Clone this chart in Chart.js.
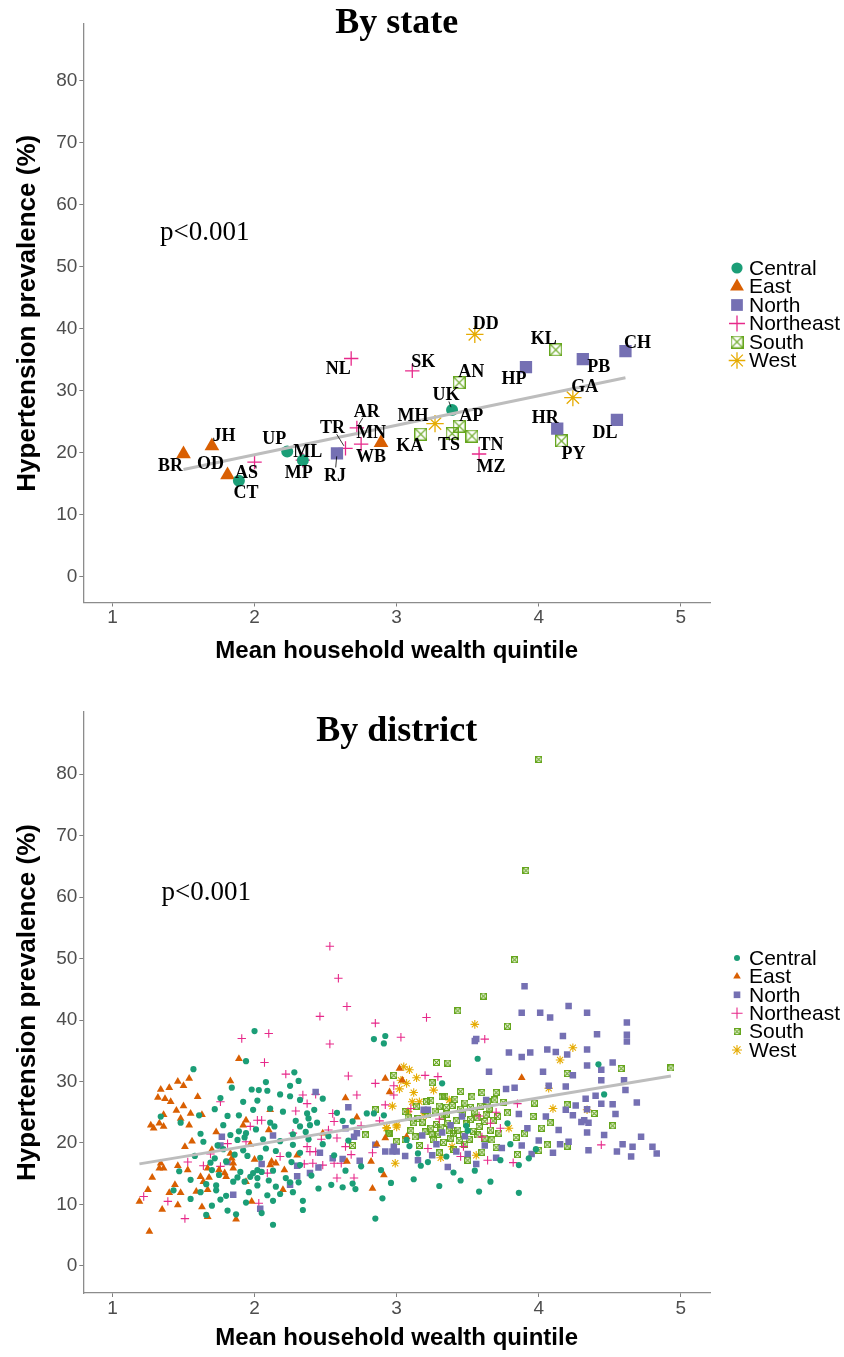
<!DOCTYPE html>
<html>
<head>
<meta charset="utf-8">
<script src="https://cdn.jsdelivr.net/npm/chart.js@4.4.1/dist/chart.umd.min.js"></script>
<style>
  html, body { margin: 0; padding: 0; background: #fff; }
  canvas { display: block; }
</style>
</head>
<body>
<canvas id="stateChart" width="844" height="689"></canvas>
<canvas id="districtChart" width="844" height="668"></canvas>
<script>
var regionNames = ['Central', 'East', 'North', 'Northeast', 'South', 'West'];
var regionColors = ['#1b9e77', '#d95f02', '#7570b3', '#e7298a', '#66a61e', '#e6ab02'];
var regionShapes = ['circle', 'triangle', 'rect', 'cross', 'boxcross', 'star'];

var xTicks = [1, 2, 3, 4, 5];
var yTicks = [0, 10, 20, 30, 40, 50, 60, 70, 80];

// by state
var stateCodes  = ['CT', 'UP', 'MP', 'UK', 'BR', 'JH', 'OD', 'WB', 'RJ', 'HP', 'PB', 'CH', 'HR', 'DL',
                   'AS', 'ML', 'TR', 'AR', 'MN', 'NL', 'SK', 'MZ', 'AN', 'KA', 'AP', 'TS', 'TN', 'KL', 'PY',
                   'DD', 'MH', 'GA'];
var stateRegion = ['Central', 'Central', 'Central', 'Central', 'East', 'East', 'East', 'East',
                   'North', 'North', 'North', 'North', 'North', 'North',
                   'Northeast', 'Northeast', 'Northeast', 'Northeast', 'Northeast', 'Northeast', 'Northeast', 'Northeast',
                   'South', 'South', 'South', 'South', 'South', 'South', 'South', 'West', 'West', 'West'];
var stateWealth = [1.89, 2.23, 2.34, 3.39, 1.50, 1.70, 1.81, 2.89, 2.58, 3.91, 4.31, 4.61, 4.13, 4.55,
                   2.00, 2.34, 2.64, 2.72, 2.75, 2.68, 3.11, 3.58, 3.44, 3.17, 3.44, 3.39, 3.53, 4.12, 4.16,
                   3.55, 3.27, 4.24];
var statePrev   = [15.5, 20.2, 18.8, 26.9, 19.8, 21.1, 16.4, 21.6, 19.9, 33.8, 35.1, 36.4, 23.9, 25.3,
                   18.5, 18.8, 20.7, 24.0, 21.4, 35.2, 33.2, 19.8, 31.3, 23.0, 24.3, 23.1, 22.7, 36.6, 21.9,
                   39.1, 24.7, 28.9];
var stateFitX = [1.50, 4.61];
var stateFitY = [17.3, 32.1];

// label nudges in px (label centre minus point centre)
var labelNudge = {
  BR: [-13, 11], JH: [12, -11], OD: [-17, -12], AS: [-8, 10], CT: [7, 12], UP: [-13, -13], ML: [5, -9],
  MP: [-4, 12], RJ: [-2, 22], TR: [-13, -21], AR: [10, -17], MN: [10, -12], WB: [-10, 14], NL: [-13, 10],
  SK: [11, -10], DD: [11, -11], AN: [12, -11], UK: [-6, -16], MH: [-22, -8], KA: [-11, 11], AP: [12, -11],
  TS: [-3, 11], TN: [19, 8], MZ: [12, 12], KL: [-12, -11], HP: [-12, 11], PB: [16, 7], CH: [12, -9],
  GA: [12, -11], HR: [-12, -11], PY: [12, 12], DL: [-12, 12]
};
var leaderCodes = ['RJ', 'TR', 'AR', 'UK'];

// by district: [mean wealth quintile, prevalence %]
var districtCentral = [
  [2.00,38.2],[2.84,36.9],[2.92,37.4],[2.91,36.2],[1.94,33.3],[1.57,32.0],[2.08,29.9],[2.31,30.1],[2.25,29.3],
  [1.98,28.7],[2.03,28.6],[2.09,28.5],[1.84,29.0],[2.18,27.9],[2.25,27.6],[2.32,27.0],[1.92,26.7],[2.02,26.9],
  [1.76,27.3],[1.72,25.5],[1.99,25.4],[2.11,25.6],[2.42,25.4],[2.37,24.8],[2.38,24.0],[2.29,23.6],[2.39,22.9],
  [2.32,22.7],[1.81,24.4],[1.89,24.5],[1.48,23.3],[1.61,24.5],[2.11,23.3],[2.14,22.7],[2.01,22.2],[1.89,21.9],
  [1.94,21.6],[1.93,20.9],[1.88,20.5],[2.27,21.4],[2.38,20.6],[2.52,21.1],[2.27,19.7],[2.58,24.9],[2.62,23.6],
  [2.69,23.5],[2.79,24.8],[2.84,24.8],[2.91,24.5],[1.92,18.8],[1.74,19.6],[2.32,18.4],[2.15,18.7],[2.08,19.1],
  [2.32,16.4],[1.80,17.0],[1.69,16.8],[1.70,15.6],[1.47,15.4],[1.55,14.0],[1.90,15.3],[1.99,15.1],[2.02,15.6],
  [2.13,15.5],[2.05,15.3],[1.97,14.5],[2.02,14.3],[1.93,13.7],[1.85,13.7],[1.75,14.8],[1.88,14.4],[2.02,13.1],
  [2.15,12.9],[2.22,14.3],[2.25,13.6],[2.31,13.6],[2.45,12.6],[2.64,15.5],[2.69,13.4],[2.71,12.5],[2.89,15.6],
  [1.43,12.3],[1.55,10.9],[1.73,13.1],[1.73,12.3],[1.62,12.0],[1.76,10.8],[1.94,10.3],[2.13,10.6],[2.34,10.6],
  [2.34,9.1],[1.81,9.0],[1.87,8.4],[2.05,8.6],[1.66,8.3],[1.70,9.8],[2.13,6.7],[2.90,11.0],[2.85,7.7],
  [2.27,12.0],[1.34,24.3],[3.57,33.7],[3.32,29.7],[4.42,32.8],[4.46,27.9],[3.78,23.2],[3.49,22.8],[3.50,22.0],
  [3.07,20.5],[3.80,19.8],[3.17,16.3],[3.66,13.7],[3.73,17.2],[3.86,16.4],[3.86,11.9],[3.09,19.5],[3.22,16.9],
  [3.40,15.2],[3.30,13.0],[3.55,15.5],[3.93,17.5],[3.15,18.3],[3.98,19.0],[2.75,16.2],[2.62,12.8],
  [1.62,21.5],[1.78,22.9],[1.86,18.1],[2.06,20.6],[2.20,25.1],[2.44,23.3],[2.48,19.8],[1.58,17.9],[1.66,13.3],
  [2.18,11.7],[2.40,14.7],[2.56,18.0],[2.48,27.2],[2.28,31.5],[1.96,12.0],[2.10,13.9],[1.78,19.0],[2.26,16.9],
  [2.54,13.2],[2.66,20.4],[2.96,13.5],[3.12,14.1],[3.35,17.8],[3.58,12.1],[3.45,13.9],
  [1.64,20.2],[1.83,21.3],[1.95,17.9],[2.04,17.6],[2.18,20.3],[2.24,18.1],[2.36,21.8],[1.72,17.5],[2.09,11.5],
  [1.80,11.4]
];
var districtEast = [
  [1.46,30.0],[1.54,30.5],[1.50,29.3],[1.40,29.0],[1.34,28.7],[1.32,27.4],[1.37,27.2],[1.41,26.7],[1.60,27.5],
  [1.50,26.0],[1.45,25.3],[1.55,24.8],[1.63,24.6],[1.36,24.6],[1.48,24.0],[1.27,22.9],[1.33,23.2],[1.29,22.4],
  [1.36,22.7],[1.54,22.9],[1.73,21.8],[1.89,33.7],[1.83,30.1],[2.11,25.4],[1.94,23.7],[2.10,22.1],[1.97,19.8],
  [1.51,19.4],[1.83,18.3],[1.34,16.7],[1.33,15.9],[1.36,15.9],[1.46,16.3],[1.53,15.6],[1.67,15.9],[1.62,14.5],
  [1.64,13.7],[1.68,14.4],[1.75,15.6],[1.79,15.1],[1.84,17.5],[1.85,16.7],[1.85,15.9],[2.12,17.0],[2.11,16.4],
  [2.15,16.7],[2.21,15.6],[1.80,14.5],[1.94,13.7],[1.44,13.2],[1.48,11.9],[1.40,11.9],[1.59,12.1],[1.67,12.4],
  [1.63,9.6],[1.46,9.9],[1.35,9.2],[1.25,12.4],[1.19,10.5],[2.20,12.4],[1.98,10.5],[1.87,7.6],[1.67,8.0],
  [1.26,5.6],[2.64,27.3],[2.72,24.2],[2.86,19.8],[2.92,20.8],[2.82,17.0],[2.91,14.8],[2.83,12.6],[3.02,32.1],
  [2.65,17.0],[3.88,30.6],[2.92,30.5],[3.04,30.2],[3.07,21.0],
  [1.56,20.3],[1.70,18.9],[1.92,22.9],[2.00,17.3],[1.28,14.4],[2.30,18.0],[2.48,21.6],[2.95,28.3]
];
var districtNorth = [
  [2.43,28.3],[2.66,25.8],[1.77,21.0],[1.76,19.6],[2.13,21.2],[2.46,18.4],[2.55,17.5],[2.74,17.1],[2.30,16.3],
  [2.05,16.6],[2.45,16.0],[2.39,15.1],[2.30,14.6],[2.25,13.2],[1.85,11.6],[2.04,9.3],[2.64,22.4],[2.70,21.0],
  [2.72,21.6],[2.92,18.6],[2.97,18.6],[3.00,18.6],[1.81,16.9],[3.90,45.5],[3.88,41.2],[4.01,41.2],[4.08,40.4],
  [4.21,42.3],[4.34,41.2],[4.62,39.6],[4.62,37.6],[4.62,36.5],[4.41,37.7],[4.17,37.4],[3.55,36.6],[3.56,36.9],
  [3.79,34.7],[3.88,34.0],[3.94,34.7],[4.06,35.2],[4.12,34.8],[4.20,34.4],[4.34,35.2],[4.34,32.6],[4.52,33.1],
  [3.65,31.6],[4.03,31.6],[4.24,31.0],[4.44,31.9],[4.44,30.2],[4.60,30.2],[4.61,28.6],[4.69,26.6],[3.77,28.8],
  [3.83,29.0],[4.07,29.3],[4.19,29.2],[4.33,27.2],[4.40,27.7],[4.44,26.4],[4.52,26.3],[4.26,26.1],[4.54,24.7],
  [4.24,24.5],[4.19,25.4],[4.34,25.5],[4.32,23.7],[4.30,23.4],[4.35,23.3],[4.34,21.7],[4.14,22.1],[4.05,24.3],
  [3.86,24.7],[3.92,22.4],[4.00,20.4],[4.15,19.8],[4.21,20.2],[4.59,19.8],[4.66,19.4],[3.63,27.0],[3.46,24.3],
  [3.19,25.4],[3.22,25.4],[3.18,21.2],[2.98,19.4],[3.36,16.1],[3.25,18.0],[3.50,18.2],[3.70,17.6],[3.95,18.2],
  [4.10,18.4],[4.35,18.8],[4.55,18.6],[4.80,19.4],[4.83,18.3],[4.65,17.8],
  [3.15,17.2],[3.28,19.8],[3.32,21.7],[3.42,18.6],[3.48,21.1],[3.56,16.6],[3.74,19.2],[3.62,19.6],[3.06,17.9],
  [3.88,19.6],[4.46,21.3],[4.72,21.0],[2.85,19.7],[2.62,17.4],[3.38,22.9]
];
var districtNortheast = [
  [2.53,52.0],[2.59,46.8],[2.65,42.2],[2.46,40.6],[2.85,39.5],[2.10,37.8],[1.91,37.0],[2.53,36.1],[2.07,33.1],
  [2.85,29.7],[2.98,29.3],[2.98,27.8],[2.34,27.8],[2.37,26.4],[2.29,25.2],[2.43,27.9],[1.76,26.7],[2.02,23.7],
  [2.05,23.7],[2.55,24.8],[2.56,23.5],[1.97,22.7],[1.94,20.2],[1.69,18.2],[1.53,16.9],[1.64,16.3],[1.76,16.2],
  [1.81,19.9],[2.18,17.8],[2.37,19.4],[2.39,18.6],[2.43,18.6],[2.64,19.4],[2.58,20.8],[2.72,27.8],[2.56,16.7],
  [2.61,16.7],[2.48,16.4],[2.41,16.7],[2.09,15.1],[2.03,10.2],[1.39,10.5],[1.22,11.3],[1.51,7.7],[2.58,14.3],
  [2.70,14.3],[2.35,16.6],[3.21,40.4],[3.03,37.2],[3.62,36.9],[3.20,31.0],[3.29,30.8],[3.58,24.4],[3.70,25.0],
  [3.66,23.2],[3.73,22.4],[3.60,21.0],[4.44,19.7],[3.22,19.1],[3.47,19.4],[3.64,17.2],[3.82,16.8],[3.45,17.8],
  [2.27,21.6],[2.52,22.1],[2.75,22.8],[2.88,23.6],[2.22,31.2],[2.66,30.9],[2.92,26.2],[3.10,25.6],[3.30,23.9],
  [3.85,26.4],[2.47,20.6],[2.83,18.4],[2.68,18.1]
];
var districtSouth = [
  [4.00,82.4],[3.91,64.3],[2.98,31.0],[2.85,25.4],[2.95,21.6],[2.69,19.6],[2.78,21.3],[3.00,20.2],[3.83,49.8],
  [3.61,43.9],[3.43,41.5],[3.78,39.0],[3.28,33.1],[3.36,33.0],[3.25,29.8],[3.32,27.5],[3.21,26.7],[3.06,25.1],
  [3.53,27.5],[3.60,28.2],[3.70,28.2],[3.48,26.5],[3.69,27.0],[3.64,26.7],[3.35,25.8],[3.32,24.3],[3.36,23.2],
  [3.46,24.8],[3.58,22.7],[3.66,22.1],[3.71,24.3],[3.84,20.9],[3.96,24.3],[4.02,22.4],[4.08,23.3],[3.97,26.5],
  [4.20,31.3],[4.20,26.2],[4.39,24.8],[4.52,22.8],[4.58,32.1],[4.93,32.2],[3.12,23.3],[3.24,22.4],[3.06,20.5],
  [3.26,20.5],[3.38,20.8],[3.51,20.6],[3.67,20.5],[3.43,22.1],[2.94,21.6],[4.06,19.7],[3.40,19.0],[3.60,18.5],
  [3.85,18.1],[4.00,18.8],[4.20,19.5],[3.30,18.4],[3.50,17.2],[3.15,24.0],[3.28,23.0],[3.40,21.5],[3.52,23.8],
  [3.20,21.8],[3.45,25.5],[3.55,25.0],[3.62,23.5],[3.30,26.0],[3.10,22.0],
  [3.13,21.0],[3.18,23.4],[3.22,24.6],[3.25,21.3],[3.27,25.2],[3.31,22.6],[3.33,20.1],[3.35,24.7],[3.37,22.0],
  [3.39,26.1],[3.42,23.6],[3.44,20.4],[3.47,21.4],[3.49,23.1],[3.52,25.8],[3.54,21.9],[3.57,24.1],[3.59,26.0],
  [3.62,20.8],[3.65,25.5],[3.68,23.6],[3.72,21.6],[3.75,26.6],[3.08,24.2],[3.16,19.6],[3.34,27.6],[3.45,28.4],
  [3.24,26.9],[3.90,21.5],[3.78,24.9],[3.20,25.3],[3.41,27.1],[3.57,21.3],[3.29,21.4],[3.48,19.8],[3.70,19.3],
  [3.14,26.0],[3.63,24.6]
];
var districtWest = [
  [2.93,22.5],[2.99,16.7],[3.00,22.9],[3.55,39.3],[4.24,35.5],[4.15,33.5],[4.07,28.9],[4.10,25.6],[4.34,25.4],
  [3.05,32.4],[3.09,31.9],[3.03,30.2],[3.07,29.7],[3.12,28.2],[3.11,26.7],[3.16,26.7],[3.37,27.0],[3.00,22.6],
  [2.93,22.4],[3.79,22.4],[3.39,19.4],[3.56,18.0],[3.31,17.6],
  [3.02,28.8],[3.14,30.6],[3.19,24.4],[3.26,28.6],[3.08,25.1],[2.97,26.0]
];
var districtFitX = [1.19, 4.93];
var districtFitY = [16.6, 30.9];

Chart.defaults.font.family = '"Liberation Sans", Arial, sans-serif';

// open square with an x inside (R pch 7)
function boxCross(size, color, lw) {
  var c = document.createElement('canvas');
  c.width = size; c.height = size;
  var g = c.getContext('2d');
  var h = lw / 2;
  g.strokeStyle = color;
  g.lineWidth = lw;
  g.strokeRect(h, h, size - lw, size - lw);
  g.beginPath();
  g.moveTo(h, h); g.lineTo(size - h, size - h);
  g.moveTo(size - h, h); g.lineTo(h, size - h);
  g.stroke();
  return c;
}

function isStroked(shape) { return shape === 'cross' || shape === 'star'; }

function regionSets(groups, sz, codes) {
  return regionNames.map(function (name, i) {
    var shape = regionShapes[i];
    var w = isStroked(shape) ? sz.lw : 0;
    return {
      label: name,
      data: groups[i].map(function (p) { return { x: p[0], y: p[1] }; }),
      codes: codes ? codes[i] : null,
      pointStyle: shape === 'boxcross' ? boxCross(sz.box, regionColors[i], sz.lw) : shape,
      pointRadius: sz[shape] || sz.box / 2,
      pointBackgroundColor: regionColors[i],
      pointBorderColor: regionColors[i],
      pointBorderWidth: w,
      backgroundColor: regionColors[i],
      borderColor: regionColors[i],
      borderWidth: w
    };
  });
}

var notes = {
  id: 'notes',
  afterDraw: function (chart, args, o) {
    var ctx = chart.ctx, a = chart.chartArea;
    ctx.save();
    ctx.fillStyle = '#000';
    ctx.textAlign = 'center';
    ctx.textBaseline = 'alphabetic';
    ctx.font = 'bold 36px "Liberation Serif", "Times New Roman", serif';
    ctx.fillText(o.title, (a.left + a.right) / 2, o.titleY);
    ctx.textBaseline = 'middle';
    ctx.font = '27px "Liberation Serif", "Times New Roman", serif';
    ctx.fillText(o.pText, chart.scales.x.getPixelForValue(o.pX), chart.scales.y.getPixelForValue(o.pY));
    ctx.restore();
  }
};

var regionLegend = {
  id: 'regionLegend',
  afterDraw: function (chart, args, o) {
    var ctx = chart.ctx;
    ctx.save();
    ctx.font = '21px "Liberation Sans", Arial, sans-serif';
    ctx.textAlign = 'left';
    ctx.textBaseline = 'middle';
    regionNames.forEach(function (name, i) {
      var shape = regionShapes[i];
      var ds = chart.data.datasets[i];
      var y = o.y + i * o.step;
      var w = isStroked(shape) ? o.marks.lw : 0;
      ctx.fillStyle = regionColors[i];
      ctx.strokeStyle = regionColors[i];
      ctx.lineWidth = w;
      Chart.helpers.drawPoint(ctx, { pointStyle: ds.pointStyle, radius: o.marks[shape] || 0, borderWidth: w, rotation: 0 }, o.x, y);
      ctx.fillStyle = '#000';
      ctx.fillText(name, o.x + 12, y + 1);
    });
    ctx.restore();
  }
};

var stateLabels = {
  id: 'stateLabels',
  afterDatasetsDraw: function (chart) {
    var ctx = chart.ctx;
    ctx.save();
    ctx.font = 'bold 18px "Liberation Serif", "Times New Roman", serif';
    ctx.textAlign = 'center';
    ctx.textBaseline = 'middle';
    ctx.fillStyle = '#000';
    ctx.strokeStyle = '#000';
    ctx.lineWidth = 0.8;
    chart.data.datasets.forEach(function (ds, i) {
      if (!ds.codes) return;
      chart.getDatasetMeta(i).data.forEach(function (pt, j) {
        var code = ds.codes[j];
        var d = labelNudge[code];
        if (leaderCodes.indexOf(code) >= 0) {
          var len = Math.hypot(d[0], d[1]);
          var k0 = 3 / len, k1 = (len - 8) / len;
          ctx.beginPath();
          ctx.moveTo(pt.x + d[0] * k0, pt.y + d[1] * k0);
          ctx.lineTo(pt.x + d[0] * k1, pt.y + d[1] * k1);
          ctx.stroke();
        }
        ctx.fillText(code, pt.x + d[0], pt.y + d[1] + 1);
      });
    });
    ctx.restore();
  }
};

function makeChart(id, sets, fitX, fitY, cfg) {
  sets.push({
    label: 'fit',
    data: fitX.map(function (x, k) { return { x: x, y: fitY[k] }; }),
    showLine: true,
    borderColor: '#bdbdbd',
    borderWidth: 3,
    pointRadius: 0,
    order: -1
  });
  var tickFont = { size: 19 };
  var plugins = [notes, regionLegend];
  if (cfg.labels) plugins.push(stateLabels);
  return new Chart(document.getElementById(id), {
    type: 'scatter',
    data: { datasets: sets },
    options: {
      responsive: false,
      animation: false,
      events: [],
      layout: { padding: { top: cfg.top, bottom: cfg.bottom, left: 0, right: 134 } },
      scales: {
        x: {
          type: 'linear',
          min: 0.795,
          max: 5.205,
          afterBuildTicks: function (s) { s.ticks = xTicks.map(function (v) { return { value: v }; }); },
          afterFit: function (s) { s.height = cfg.xHeight; },
          grid: { drawOnChartArea: false, tickLength: 4, tickColor: '#7f7f7f' },
          border: { color: '#8c8c8c', width: 1.3 },
          ticks: { font: tickFont, color: '#4d4d4d', padding: 0, maxRotation: 0, autoSkip: false },
          title: { display: true, text: 'Mean household wealth quintile', font: { size: 24, weight: 'bold' },
                   color: '#000', padding: { top: 0, bottom: cfg.xTitlePad } }
        },
        y: {
          type: 'linear',
          min: cfg.yMin,
          max: cfg.yMax,
          afterBuildTicks: function (s) { s.ticks = yTicks.map(function (v) { return { value: v }; }); },
          afterFit: function (s) { s.width = 83.3; },
          grid: { drawOnChartArea: false, tickLength: 4, tickColor: '#7f7f7f' },
          border: { color: '#8c8c8c', width: 1.3 },
          ticks: { font: tickFont, color: '#4d4d4d', padding: 2, autoSkip: false },
          title: { display: true, text: 'Hypertension prevalence (%)', font: { size: 26, weight: 'bold' },
                   color: '#000', padding: { top: 12, bottom: 0 } }
        }
      },
      plugins: {
        tooltip: { enabled: false },
        legend: { display: false },
        notes: cfg.notes,
        regionLegend: cfg.legend
      }
    },
    plugins: plugins
  });
}

var bigMarks = { circle: 6, triangle: 8.5, rect: 8.7, cross: 7.2, star: 8.7, box: 13, lw: 1.3 };
var smallMarks = { circle: 3.1, triangle: 4.5, rect: 4.6, cross: 4.2, star: 4.3, box: 7, lw: 1.1 };
var bigKey = { circle: 5.6, triangle: 8, rect: 8.3, cross: 8, star: 8.3, boxcross: 1, lw: 1.3 };
var smallKey = { circle: 3, triangle: 4.4, rect: 4.7, cross: 5.6, star: 5, boxcross: 1, lw: 1.1 };

var stateGroups = regionNames.map(function (r) {
  var out = [];
  stateCodes.forEach(function (c, k) { if (stateRegion[k] === r) out.push([stateWealth[k], statePrev[k]]); });
  return out;
});
var stateGroupCodes = regionNames.map(function (r) {
  return stateCodes.filter(function (c, k) { return stateRegion[k] === r; });
});

makeChart('stateChart', regionSets(stateGroups, bigMarks, stateGroupCodes), stateFitX, stateFitY, {
  top: 24, bottom: 20.5, xHeight: 66, xTitlePad: 3, yMin: -4.15, yMax: 89.15, labels: true,
  notes: { title: 'By state', titleY: 33, pText: 'p<0.001', pX: 1.65, pY: 55.5 },
  legend: { x: 737, y: 268, step: 18.5, marks: bigKey }
});

var districtGroups = [districtCentral, districtEast, districtNorth, districtNortheast, districtSouth, districtWest];
makeChart('districtChart', regionSets(districtGroups, smallMarks, null), districtFitX, districtFitY, {
  top: 23, bottom: 2, xHeight: 62, xTitlePad: 2.6, yMin: -4.4, yMax: 90.1, labels: false,
  notes: { title: 'By district', titleY: 52, pText: 'p<0.001', pX: 1.66, pY: 60.6 },
  legend: { x: 737, y: 269, step: 18.4, marks: smallKey }
});
</script>
</body>
</html>
